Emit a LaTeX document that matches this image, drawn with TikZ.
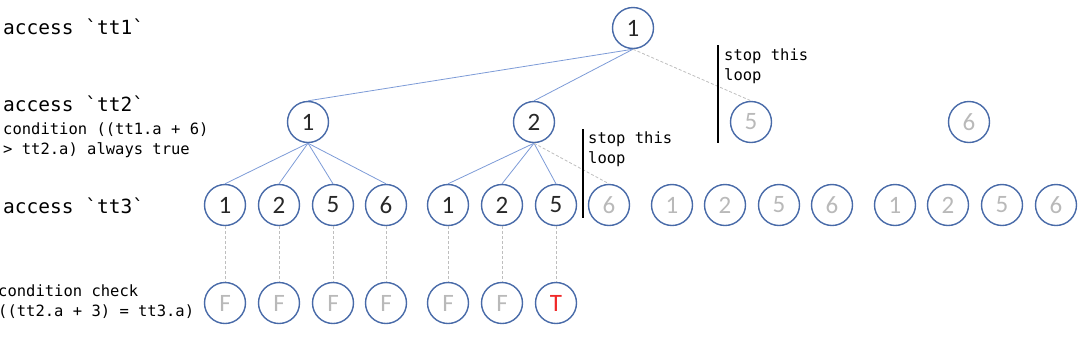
\documentclass[tikz,border=0pt]{standalone}
\usepackage{fontspec}
\setmainfont{Carlito}
\setmonofont{DejaVu Sans Mono}
\definecolor{ring}{RGB}{72,106,168}
\definecolor{edgeblue}{RGB}{125,155,215}
\definecolor{dimtext}{RGB}{185,185,185}
\definecolor{darktext}{RGB}{40,40,40}
\definecolor{dashgray}{RGB}{190,190,190}
\definecolor{redtext}{RGB}{240,40,40}
\begin{document}
\begin{tikzpicture}[x=1pt,y=-1pt,
  nd/.style={circle,draw=ring,line width=1.4pt,minimum size=41pt,inner sep=0pt,
    font=\fontsize{25}{25}\selectfont,text=darktext},
  dim/.style={nd,text=dimtext},
  tedge/.style={draw=edgeblue,line width=0.8pt},
  dedge/.style={draw=dashgray,line width=0.8pt,dash pattern=on 3pt off 2pt},
  bigl/.style={anchor=west,inner sep=0pt,font=\ttfamily\fontsize{19.5}{22}\selectfont},
  smalll/.style={anchor=west,inner sep=0pt,align=left,font=\ttfamily\fontsize{15.5}{20}\selectfont},
  stopbar/.style={draw=black,line width=1.3pt}]
\useasboundingbox (0,0) rectangle (1080,341);
% labels
\node[bigl] (l1) at (3,27) {access `tt1`};
\node[bigl] (l2) at (3,104) {access `tt2`};
\node[smalll] (l2b) at (3,140) {condition ((tt1.a + 6)\\> tt2.a) always true};
\node[bigl] (l3) at (3,206) {access `tt3`};
\node[smalll] (l4) at (-2,302) {condition check\\((tt2.a + 3) = tt3.a)};
% tree nodes
\node[nd] (r) at (633,28) {1};
\node[nd] (b1) at (308,122) {1};
\node[nd] (b2) at (534,122) {2};
\node[dim] (b3) at (751,122) {5};
\node[dim] (b4) at (969,122) {6};
\node[nd] (a1) at (225,205) {1};
\node[nd] (a2) at (279,205) {2};
\node[nd] (a3) at (333,205) {5};
\node[nd] (a4) at (386,205) {6};
\node[nd] (c1) at (448,205) {1};
\node[nd] (c2) at (502,205) {2};
\node[nd] (c3) at (556,205) {5};
\node[dim] (c4) at (609,205) {6};
\node[dim] (d1) at (672,205) {1};
\node[dim] (d2) at (725,205) {2};
\node[dim] (d3) at (779,205) {5};
\node[dim] (d4) at (832,205) {6};
\node[dim] (e1) at (895,205) {1};
\node[dim] (e2) at (948,205) {2};
\node[dim] (e3) at (1002,205) {5};
\node[dim] (e4) at (1056,205) {6};
\node[dim] (f1) at (225,303) {F};
\node[dim] (f2) at (279,303) {F};
\node[dim] (f3) at (333,303) {F};
\node[dim] (f4) at (386,303) {F};
\node[dim] (f5) at (448,303) {F};
\node[dim] (f6) at (502,303) {F};
\node[nd,text=redtext] (f7) at (556,303) {T};
% edges
\draw[tedge] (r.south) -- (b1.north);
\draw[tedge] (r.south) -- (b2.north);
\draw[dedge] (r.south) -- (b3.north);
\foreach \t in {a1,a2,a3,a4} \draw[tedge] (b1.south) -- (\t.north);
\foreach \t in {c1,c2,c3} \draw[tedge] (b2.south) -- (\t.north);
\draw[dedge] (b2.south) -- (c4.north);
\draw[dedge] (a1.south) -- (f1.north);
\draw[dedge] (a2.south) -- (f2.north);
\draw[dedge] (a3.south) -- (f3.north);
\draw[dedge] (a4.south) -- (f4.north);
\draw[dedge] (c1.south) -- (f5.north);
\draw[dedge] (c2.south) -- (f6.north);
\draw[dedge] (c3.south) -- (f7.north);
% stop bars
\coordinate (s1t) at (718,45);
\coordinate (s1b) at (718,143);
\draw[stopbar] (s1t) -- (s1b);
\node[smalll,anchor=north west] (s1) at (724,49) {stop this\\loop};
\coordinate (s2t) at (583,129);
\coordinate (s2b) at (583,218);
\draw[stopbar] (s2t) -- (s2b);
\node[smalll,anchor=north west] (s2) at (588,132) {stop this\\loop};
\end{tikzpicture}
\end{document}
